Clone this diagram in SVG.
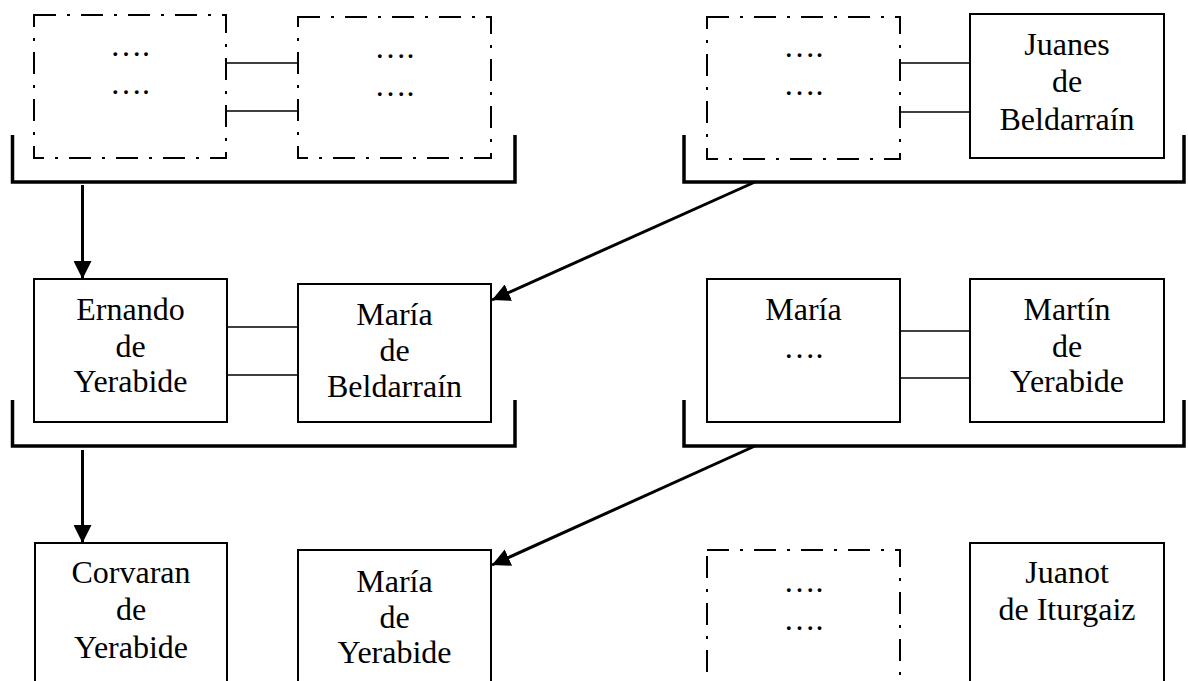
<svg xmlns="http://www.w3.org/2000/svg" width="1188" height="681" viewBox="0 0 1188 681">
<style>
.box{fill:#fff;stroke:#000;stroke-width:2}
.dash{fill:#fff;stroke:#000;stroke-width:2;stroke-dasharray:22 11 3 11}
.t{font-family:"Liberation Serif","Times New Roman",serif;font-size:32px;text-anchor:middle;fill:#000}
.link{stroke:#000;stroke-width:1.6;fill:none}
.brk{stroke:#000;stroke-width:3.5;fill:none}
.arr{stroke:#000;stroke-width:3;fill:none;marker-end:url(#ah)}
</style>
<defs>
<marker id="ah" markerUnits="userSpaceOnUse" markerWidth="18" markerHeight="18" viewBox="0 0 16 16" refX="16" refY="8" orient="auto">
<path d="M0,0 L16,8 L0,16 Z" fill="#000"/>
</marker>
</defs>
<rect width="1188" height="681" fill="#fff"/>
<g id="connectors">
<line class="link" x1="226" y1="63" x2="298" y2="63"/>
<line class="link" x1="226" y1="111" x2="298" y2="111"/>
<line class="link" x1="900" y1="63" x2="970" y2="63"/>
<line class="link" x1="900" y1="112" x2="970" y2="112"/>
<line class="link" x1="227" y1="327" x2="298" y2="327"/>
<line class="link" x1="227" y1="375" x2="298" y2="375"/>
<line class="link" x1="900" y1="331" x2="970" y2="331"/>
<line class="link" x1="900" y1="378" x2="970" y2="378"/>
<path class="brk" d="M12.5,135 V182 H515 V135"/>
<path class="brk" d="M684,135 V182 H1184 V135"/>
<path class="brk" d="M12.5,400 V446 H515 V400"/>
<path class="brk" d="M684,400 V446 H1184 V400"/>
<line class="arr" x1="82.5" y1="185" x2="82.5" y2="279"/>
<line class="arr" x1="755" y1="182" x2="492" y2="300"/>
<line class="arr" x1="82.5" y1="450" x2="82.5" y2="543"/>
<line class="arr" x1="755" y1="446" x2="492" y2="565"/>
</g>
<g id="n-tl1"><rect class="dash" x="34" y="15" width="192" height="143"/><text class="t" x="130" y="56">….</text><text class="t" x="130" y="94">….</text></g>
<g id="n-tl2"><rect class="dash" x="298" y="17" width="193" height="141"/><text class="t" x="394.5" y="58">….</text><text class="t" x="394.5" y="96">….</text></g>
<g id="n-tr1"><rect class="dash" x="707" y="17" width="193" height="142"/><text class="t" x="803.5" y="57">….</text><text class="t" x="803.5" y="95">….</text></g>
<g id="n-juanes"><rect class="box" x="970" y="14" width="194" height="144"/><text class="t" x="1067" y="55">Juanes</text><text class="t" x="1067" y="92">de</text><text class="t" x="1067" y="130">Beldarraín</text></g>
<g id="n-ernando"><rect class="box" x="34" y="279" width="193" height="143"/><text class="t" x="130.5" y="320">Ernando</text><text class="t" x="130.5" y="357">de</text><text class="t" x="130.5" y="392">Yerabide</text></g>
<g id="n-maria-b"><rect class="box" x="298" y="284" width="193" height="138"/><text class="t" x="394.5" y="325">María</text><text class="t" x="394.5" y="361">de</text><text class="t" x="394.5" y="397">Beldarraín</text></g>
<g id="n-maria"><rect class="box" x="707" y="279" width="193" height="143"/><text class="t" x="803.5" y="320">María</text><text class="t" x="803.5" y="358">….</text></g>
<g id="n-martin"><rect class="box" x="970" y="279" width="194" height="143"/><text class="t" x="1067" y="320">Martín</text><text class="t" x="1067" y="357">de</text><text class="t" x="1067" y="392">Yerabide</text></g>
<g id="n-corvaran"><rect class="box" x="35" y="543" width="192" height="160"/><text class="t" x="131" y="583">Corvaran</text><text class="t" x="131" y="620">de</text><text class="t" x="131" y="658">Yerabide</text></g>
<g id="n-maria-y"><rect class="box" x="298" y="550" width="193" height="150"/><text class="t" x="394.5" y="592">María</text><text class="t" x="394.5" y="628">de</text><text class="t" x="394.5" y="663">Yerabide</text></g>
<g id="n-br1"><rect class="dash" x="707" y="550" width="193" height="150"/><text class="t" x="803.5" y="592">….</text><text class="t" x="803.5" y="630">….</text></g>
<g id="n-juanot"><rect class="box" x="970" y="543" width="194" height="160"/><text class="t" x="1067" y="583">Juanot</text><text class="t" x="1067" y="620">de Iturgaiz</text></g>
</svg>
